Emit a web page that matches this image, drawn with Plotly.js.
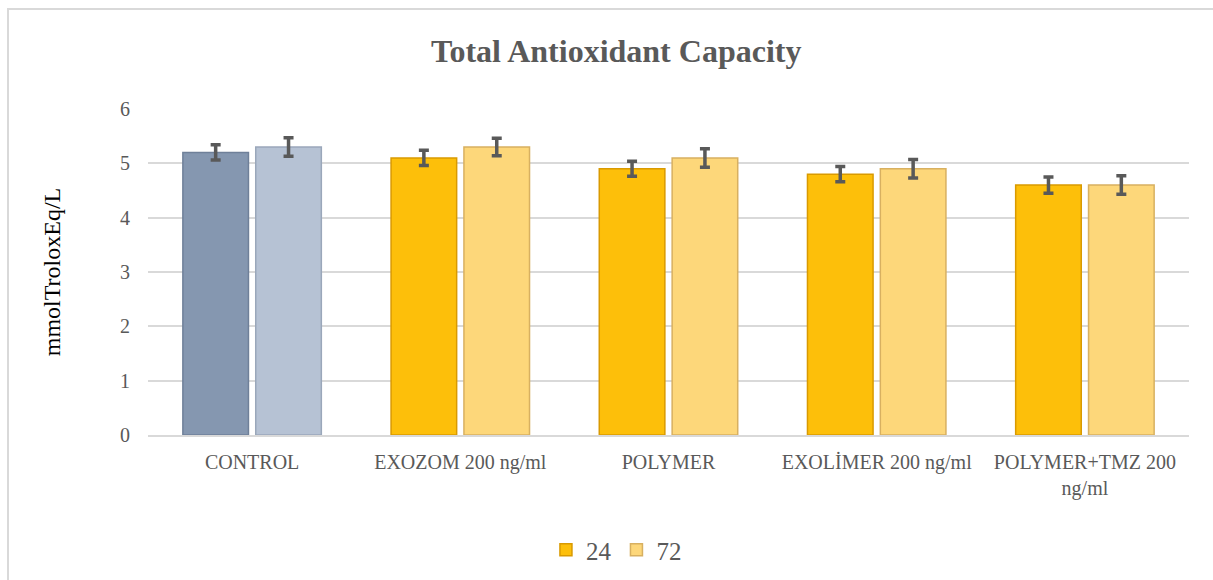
<!DOCTYPE html>
<html>
<head>
<meta charset="utf-8">
<script src="https://cdn.plot.ly/plotly-3.0.1.min.js"></script>
<style>
  body { margin: 0; background: #fff; }
  #chart { width: 1213px; height: 580px; }
</style>
</head>
<body>
<div id="chart"></div>
<script>
// values
const categories = ['CONTROL', 'EXOZOM 200 ng/ml', 'POLYMER', 'EXOLİMER 200 ng/ml', 'POLYMER+TMZ 200<br>ng/ml'];
const series = ['24', '72'];
const vals24 = [5.2, 5.1, 4.9, 4.8, 4.6];
const vals72 = [5.3, 5.3, 5.1, 4.9, 4.6];
const err24 = [0.14, 0.14, 0.14, 0.14, 0.15];
const err72 = [0.17, 0.16, 0.17, 0.17, 0.17];

const FONT = 'Liberation Serif, Times New Roman, serif';

// control group is grey-blue, the rest gold
function makeTrace(name, vals, errs, idx, fill, edge, showlegend) {
    return {
        type: 'bar',
        name: name,
        x: idx.map(i => categories[i]),
        y: idx.map(i => vals[i]),
        offsetgroup: name,
        legendgroup: name,
        showlegend: showlegend,
        marker: { color: fill, line: { color: edge, width: 1.5 } },
        error_y: {
            type: 'data',
            array: idx.map(i => errs[i]),
            visible: true,
            color: '#595959',
            thickness: 3.5,
            width: 5
        },
        hoverinfo: 'x+y'
    };
}

const ctrl = [0];
const rest = [1, 2, 3, 4];

var data = [
    makeTrace(series[0], vals24, err24, ctrl, '#8597b0', '#6f8099', false),
    makeTrace(series[1], vals72, err72, ctrl, '#b6c2d4', '#9aa7ba', false),
    makeTrace(series[0], vals24, err24, rest, '#fdbf0a', '#d99a00', true),
    makeTrace(series[1], vals72, err72, rest, '#fdd77a', '#d8b060', true)
];

var layout = {
    width: 1213,
    height: 580,
    margin: { l: 148, r: 24, t: 109, b: 145 },
    paper_bgcolor: '#ffffff',
    plot_bgcolor: '#ffffff',
    font: { family: FONT, color: '#595959', size: 20 },
    title: {
        text: '<b>Total Antioxidant Capacity</b>',
        font: { family: FONT, size: 32, color: '#595959' },
        x: 0.508,
        xanchor: 'center',
        y: 0.913,
        yanchor: 'middle'
    },
    barmode: 'group',
    bargap: 0.3,
    bargroupgap: 0.1,
    xaxis: {
        categoryorder: 'array',
        categoryarray: categories,
        showline: true,
        linecolor: '#d9d9d9',
        linewidth: 2,
        ticks: '',
        ticklabelstandoff: 8,
        tickfont: { family: FONT, size: 20, color: '#595959' },
        automargin: false,
        fixedrange: true
    },
    yaxis: {
        range: [0, 6],
        dtick: 1,
        showgrid: true,
        gridcolor: '#d9d9d9',
        gridwidth: 1.5,
        zeroline: false,
        ticks: '',
        ticklabelstandoff: 17,
        tickfont: { family: FONT, size: 20, color: '#595959' },
        title: {
            text: 'mmolTroloxEq/L',
            font: { family: FONT, size: 24, color: '#000000' },
            standoff: 52
        },
        automargin: false,
        fixedrange: true
    },
    legend: {
        orientation: 'h',
        x: 0.45,
        xanchor: 'center',
        yref: 'container',
        y: 1 - 550 / 580,
        yanchor: 'middle',
        font: { family: FONT, size: 25, color: '#595959' },
        itemwidth: 30,
        traceorder: 'normal'
    },
    shapes: [{
        type: 'rect',
        xref: 'paper',
        yref: 'paper',
        x0: (8 - 148) / 1041,
        x1: 1.05,
        y0: -0.5,
        y1: (435 - 9) / 326,
        line: { color: '#d9d9d9', width: 2 },
        fillcolor: 'rgba(0,0,0,0)',
        layer: 'below'
    }]
};

Plotly.newPlot('chart', data, layout, { displayModeBar: false, responsive: false });
</script>
</body>
</html>
